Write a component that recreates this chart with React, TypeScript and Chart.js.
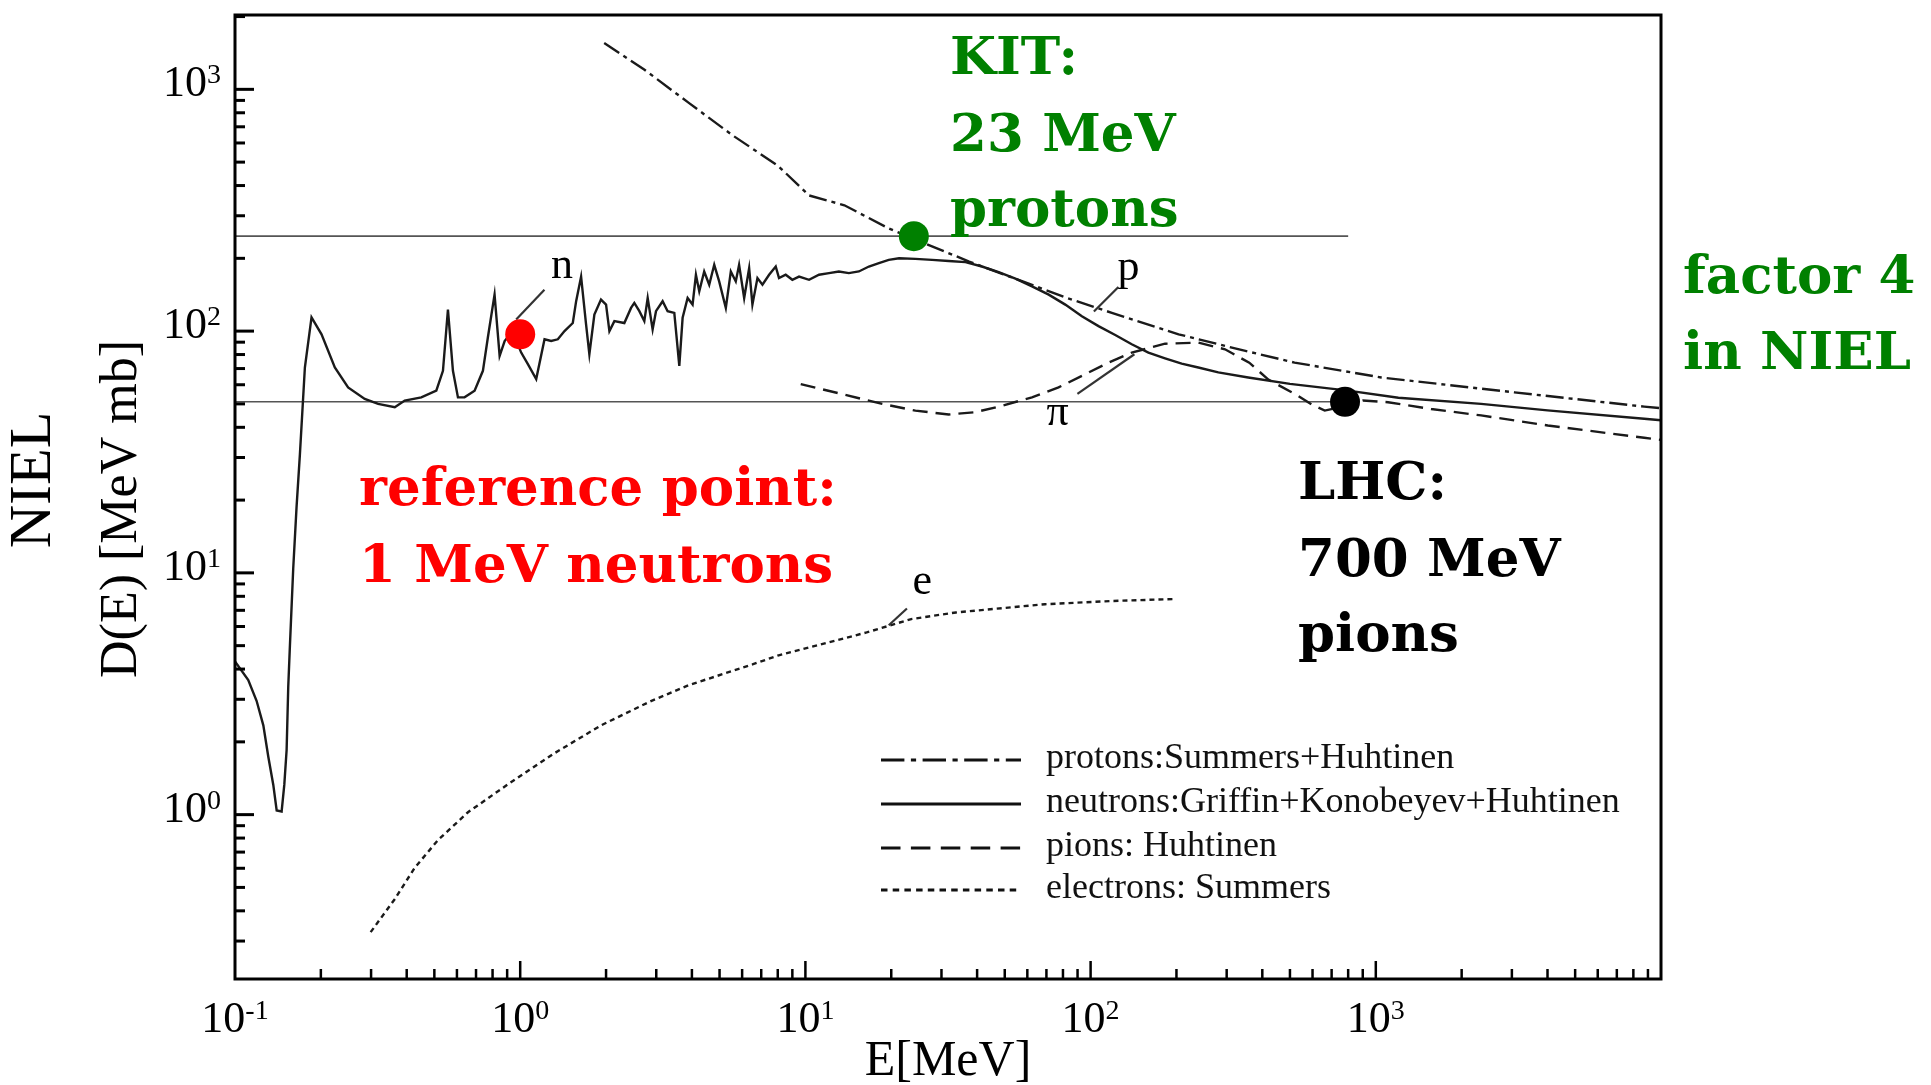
import React, { useEffect, useRef } from "react";
import { Chart, registerables } from "chart.js";

Chart.register(...registerables);

const W = 1931;
const H = 1085;

// ---------- data ----------
const neutronEnergy = [0.1, 0.1113, 0.1191, 0.1257, 0.1308, 0.1362, 0.14, 0.1457, 0.1489, 0.1517, 0.1537, 0.1558, 0.16, 0.1644, 0.1689, 0.1758, 0.1855, 0.2011, 0.2239, 0.2492, 0.2851, 0.3176, 0.3633, 0.3937, 0.45, 0.508, 0.536, 0.558, 0.581, 0.605, 0.638, 0.692, 0.74, 0.77, 0.813, 0.847, 0.882, 0.94, 1.008, 1.064, 1.138, 1.217, 1.284, 1.355, 1.43, 1.529, 1.571, 1.635, 1.702, 1.748, 1.82, 1.92, 2.0, 2.055, 2.139, 2.318, 2.447, 2.513, 2.617, 2.724, 2.799, 2.913, 2.993, 3.158, 3.288, 3.47, 3.613, 3.711, 3.864, 4.022, 4.132, 4.245, 4.417, 4.6, 4.79, 4.985, 5.26, 5.477, 5.7, 5.855, 6.1, 6.35, 6.52, 6.79, 7.07, 7.46, 7.87, 8.08, 8.53, 9.0, 9.5, 10.3, 11.16, 12.1, 13.1, 14.2, 15.4, 16.7, 18.1, 19.6, 21.3, 24.3, 27.8, 31.8, 36.4, 41.6, 47.6, 54.5, 62.3, 71.3, 81.5, 93.2, 106.6, 122, 139.4, 159.5, 182.4, 208.6, 238.6, 280.4, 357, 500, 799, 1200, 2340, 4000, 8730, 10000];
const neutronNiel = [4.3, 3.6, 2.95, 2.34, 1.74, 1.33, 1.04, 1.03, 1.33, 1.85, 3.37, 5.0, 10.4, 18.8, 31, 70.7, 114, 97, 70.7, 58.5, 52.4, 50.0, 48.4, 51.6, 53.2, 56.7, 68.5, 122.8, 68.5, 53.2, 53.2, 56.7, 68.5, 93.9, 141.5, 79, 91, 100, 81.5, 73, 63.3, 92.5, 91, 92.5, 100, 108, 133, 168, 106.6, 80.2, 117, 135, 128.8, 100, 110, 108, 124.7, 130.8, 120.9, 110, 137.1, 101.6, 120.9, 132.9, 120.9, 119, 71.8, 113.5, 137.1, 128.8, 171, 146, 176.5, 155.5, 188, 160.5, 124.7, 176.5, 160.5, 188, 137, 182, 128.7, 165.6, 155.5, 171, 185, 165.6, 171, 163, 168, 163, 171, 173.7, 176.5, 173.7, 176.5, 185, 191, 197, 200, 199, 197, 195, 192.8, 185, 175.4, 164.7, 153, 141.5, 128.7, 115.3, 104.9, 96.3, 88.2, 81.5, 77.2, 73.4, 70.7, 67.5, 64.3, 60.5, 56.7, 53, 50, 47, 43.4, 42.8];

const protonEnergy = [1.97, 2.72, 3.89, 5.58, 8.0, 10.3, 13.7, 19.6, 27.1, 37.5, 57.8, 82.8, 118.7, 203.5, 349, 519, 1045, 3062, 8730, 10000];
const protonNiel = [1553, 1208, 881, 643, 484, 364, 331.5, 266, 227, 194, 160.5, 137, 119, 97, 82.8, 74.1, 64.3, 55.8, 48.7, 48];

const pionEnergy = [9.63, 13.1, 18.6, 24.3, 31.8, 39.4, 47.6, 62.3, 77.2, 93.2, 115.5, 139.4, 182.4, 238.6, 296, 360, 420, 534, 600, 662, 750, 901, 1104, 1563, 2340, 4010, 8730, 10000];
const pionNiel = [60.4, 55.3, 50, 46.9, 45.2, 46.2, 48.7, 53.2, 58.5, 65.3, 74.1, 81.5, 88.7, 89.6, 84.1, 74, 63, 54, 49.5, 46.9, 48.5, 51.6, 50.8, 47.6, 44.8, 40.7, 36.2, 35.5];

const electronEnergy = [0.299, 0.363, 0.4266, 0.515, 0.656, 0.905, 1.319, 1.921, 2.874, 3.89, 6.52, 8.0, 16.4, 23.5, 33.7, 69.2, 118.7, 200];
const electronNiel = [0.3266, 0.4467, 0.6026, 0.785, 1.023, 1.334, 1.795, 2.34, 2.95, 3.43, 4.18, 4.55, 5.67, 6.44, 6.86, 7.42, 7.65, 7.8];

// horizontal reference levels (KIT level, LHC level) and their energy span
const levelNiel = [247, 51];
const levelEnergySpan = [0.1, 800];

// highlighted points: reference (1 MeV n), KIT (23 MeV p), LHC (700 MeV pi)
const markerEnergy = [1, 24, 780];
const markerNiel = [97, 247, 51];
const markerColors = ["#ff0000", "#008000", "#000000"];

// curve tags: n, p, pi, e  (label anchor + pointer segment)
const tagText = ["n", "p", "\u03c0", "e"];
const tagEnergy = [1.4, 135.7, 76.6, 25.7];
const tagNiel = [166, 163, 41, 8.21];
const pointerEnergyFrom = [0.968, 102.7, 89.9, 19.6];
const pointerNielFrom = [111.7, 120.5, 55, 6.07];
const pointerEnergyTo = [1.216, 125.2, 142.4, 22.7];
const pointerNielTo = [148.4, 152.3, 80.2, 7.12];

// axis ticks
const xMajorTicks = [0.1, 1, 10, 100, 1000];
const xTickExponents = ["-1", "0", "1", "2", "3"];
const yMajorTicks = [1, 10, 100, 1000];
const yTickExponents = ["0", "1", "2", "3"];
const xRange = [0.1, 10000];
const yRange = [0.209, 2030];

// legend
const legendLabels = [
  "protons:Summers+Huhtinen",
  "neutrons:Griffin+Konobeyev+Huhtinen",
  "pions: Huhtinen",
  "electrons: Summers",
];

const DASH_PROTON = [18, 5, 4, 5];
const DASH_NEUTRON: number[] = [];
const DASH_PION = [15, 8];
const DASH_ELECTRON = [5, 4];
const legendDashes = [DASH_PROTON, DASH_NEUTRON, DASH_PION, DASH_ELECTRON];

const SERIF = '"Liberation Serif", "Times New Roman", serif';
const BOLD = '"DejaVu Serif", serif';

function zip(xs: number[], ys: number[]) {
  return xs.map((x, i) => ({ x, y: ys[i] }));
}

function drawPow(ctx: CanvasRenderingContext2D, exp: string, x: number, baseY: number, align: "right" | "center") {
  ctx.font = `44px ${SERIF}`;
  const w10 = ctx.measureText("10").width;
  ctx.font = `28px ${SERIF}`;
  const we = ctx.measureText(exp).width;
  const total = w10 + we;
  const start = align === "right" ? x - total : x - total / 2;
  ctx.textAlign = "left";
  ctx.textBaseline = "alphabetic";
  ctx.font = `44px ${SERIF}`;
  ctx.fillText("10", start, baseY);
  ctx.font = `28px ${SERIF}`;
  ctx.fillText(exp, start + w10, baseY - 13);
}

const decorPlugin = {
  id: "decor",
  afterDraw(chart: any) {
    const { ctx, chartArea: a, scales } = chart;
    const xs = scales.x;
    const ys = scales.y;
    ctx.save();
    ctx.fillStyle = "#000";
    ctx.strokeStyle = "#000";

    // frame
    ctx.lineWidth = 3;
    ctx.setLineDash([]);
    ctx.strokeRect(a.left, a.top, a.right - a.left, a.bottom - a.top);

    // x ticks (inward)
    ctx.lineWidth = 2.5;
    for (let d = -1; d <= 3; d++) {
      for (let k = 1; k <= 9; k++) {
        const v = k * Math.pow(10, d);
        if (v <= xRange[0] || v >= xRange[1]) continue;
        const px = xs.getPixelForValue(v);
        const len = k === 1 ? 18 : 10;
        ctx.beginPath();
        ctx.moveTo(px, a.bottom);
        ctx.lineTo(px, a.bottom - len);
        ctx.stroke();
      }
    }
    // y ticks (inward)
    ctx.lineWidth = 3;
    for (let d = -1; d <= 3; d++) {
      for (let k = 1; k <= 9; k++) {
        const v = k * Math.pow(10, d);
        if (v <= yRange[0] || v >= yRange[1]) continue;
        const py = ys.getPixelForValue(v);
        const len = k === 1 ? 19 : 10;
        ctx.beginPath();
        ctx.moveTo(a.left, py);
        ctx.lineTo(a.left + len, py);
        ctx.stroke();
      }
    }

    // tick labels
    xMajorTicks.forEach((v, i) => {
      drawPow(ctx, xTickExponents[i], xs.getPixelForValue(v), 1032, "center");
    });
    yMajorTicks.forEach((v, i) => {
      drawPow(ctx, yTickExponents[i], a.left - 14, ys.getPixelForValue(v) + 7, "right");
    });

    // axis titles
    ctx.textAlign = "center";
    ctx.textBaseline = "alphabetic";
    ctx.font = `50px ${SERIF}`;
    ctx.fillText("E[MeV]", (a.left + a.right) / 2, 1075);

    ctx.save();
    ctx.translate(34, 480);
    ctx.rotate(-Math.PI / 2);
    ctx.textBaseline = "middle";
    ctx.font = `60px ${SERIF}`;
    ctx.fillText("NIEL", 0, 0);
    ctx.restore();

    ctx.save();
    ctx.translate(122, 509);
    ctx.rotate(-Math.PI / 2);
    ctx.textBaseline = "middle";
    ctx.font = `52px ${SERIF}`;
    ctx.fillText("D(E) [MeV mb]", 0, 0);
    ctx.restore();

    // curve tags
    ctx.font = `44px ${SERIF}`;
    ctx.textAlign = "center";
    ctx.textBaseline = "alphabetic";
    tagText.forEach((t, i) => {
      ctx.fillText(t, xs.getPixelForValue(tagEnergy[i]), ys.getPixelForValue(tagNiel[i]));
    });

    // legend
    const lx0 = 881;
    const lx1 = 1021;
    const ltx = 1046;
    const baselines = [768, 812, 856, 898];
    legendLabels.forEach((lab, i) => {
      const yLine = baselines[i] - 8;
      ctx.save();
      ctx.strokeStyle = "#111";
      ctx.lineWidth = 2.8;
      ctx.setLineDash(legendDashes[i].map((d) => d * 1.3));
      ctx.beginPath();
      ctx.moveTo(lx0, yLine);
      ctx.lineTo(lx1, yLine);
      ctx.stroke();
      ctx.restore();
      ctx.font = `36px ${SERIF}`;
      ctx.textAlign = "left";
      ctx.textBaseline = "alphabetic";
      ctx.fillStyle = "#111";
      ctx.fillText(lab, ltx, baselines[i]);
    });

    // annotations
    ctx.textAlign = "left";
    ctx.textBaseline = "alphabetic";
    ctx.font = `bold 53px ${BOLD}`;
    ctx.fillStyle = "#008000";
    ctx.fillText("KIT:", 950, 74);
    ctx.fillText("23 MeV", 950, 151);
    ctx.fillText("protons", 950, 226);
    ctx.fillText("factor 4", 1683, 293);
    ctx.fillText("in NIEL", 1683, 369);
    ctx.fillStyle = "#ff0000";
    ctx.fillText("reference point:", 359, 505);
    ctx.fillText("1 MeV neutrons", 359, 582);
    ctx.fillStyle = "#000000";
    ctx.fillText("LHC:", 1298, 499);
    ctx.fillText("700 MeV", 1298, 576);
    ctx.fillText("pions", 1298, 651);

    ctx.restore();
  },
};

export default function App() {
  const ref = useRef<HTMLCanvasElement | null>(null);

  useEffect(() => {
    if (!ref.current) return;
    const lineColor = "#1a1a1a";
    const curve = (data: any[], dash: number[], order: number) => ({
      data,
      showLine: true,
      borderColor: lineColor,
      borderWidth: 2.4,
      borderDash: dash,
      pointRadius: 0,
      tension: 0,
      order,
    });
    const datasets: any[] = [
      { label: legendLabels[0], ...curve(zip(protonEnergy, protonNiel), DASH_PROTON, 5) },
      { label: legendLabels[1], ...curve(zip(neutronEnergy, neutronNiel), DASH_NEUTRON, 5) },
      { label: legendLabels[2], ...curve(zip(pionEnergy, pionNiel), DASH_PION, 5) },
      { label: legendLabels[3], ...curve(zip(electronEnergy, electronNiel), DASH_ELECTRON, 5) },
    ];
    levelNiel.forEach((lv) => {
      datasets.push({
        data: levelEnergySpan.map((e) => ({ x: e, y: lv })),
        showLine: true,
        borderColor: "#555",
        borderWidth: 1.6,
        pointRadius: 0,
        order: 6,
      });
    });
    tagText.forEach((_, i) => {
      datasets.push({
        data: [
          { x: pointerEnergyFrom[i], y: pointerNielFrom[i] },
          { x: pointerEnergyTo[i], y: pointerNielTo[i] },
        ],
        showLine: true,
        borderColor: "#333",
        borderWidth: 2.2,
        pointRadius: 0,
        order: 4,
      });
    });
    markerEnergy.forEach((e, i) => {
      datasets.push({
        data: [{ x: e, y: markerNiel[i] }],
        showLine: false,
        pointRadius: 15,
        pointHoverRadius: 15,
        pointBackgroundColor: markerColors[i],
        pointBorderWidth: 0,
        borderColor: markerColors[i],
        order: 0,
      });
    });

    const chart = new Chart(ref.current, {
      type: "scatter",
      data: { datasets },
      plugins: [decorPlugin],
      options: {
        animation: false,
        responsive: false,
        devicePixelRatio: 1,
        layout: { padding: { left: 235, top: 8, right: W - 1661, bottom: H - 979 } },
        plugins: { legend: { display: false }, tooltip: { enabled: false } },
        events: [],
        scales: {
          x: { type: "logarithmic", min: xRange[0], max: xRange[1], display: false },
          y: { type: "logarithmic", min: yRange[0], max: yRange[1], display: false },
        },
      },
    });
    return () => chart.destroy();
  }, []);

  return (
    <div style={{ position: "fixed", left: 0, top: 0, width: W, height: H, background: "#fff" }}>
      <canvas ref={ref} width={W} height={H} style={{ width: W, height: H, display: "block" }} />
    </div>
  );
}
